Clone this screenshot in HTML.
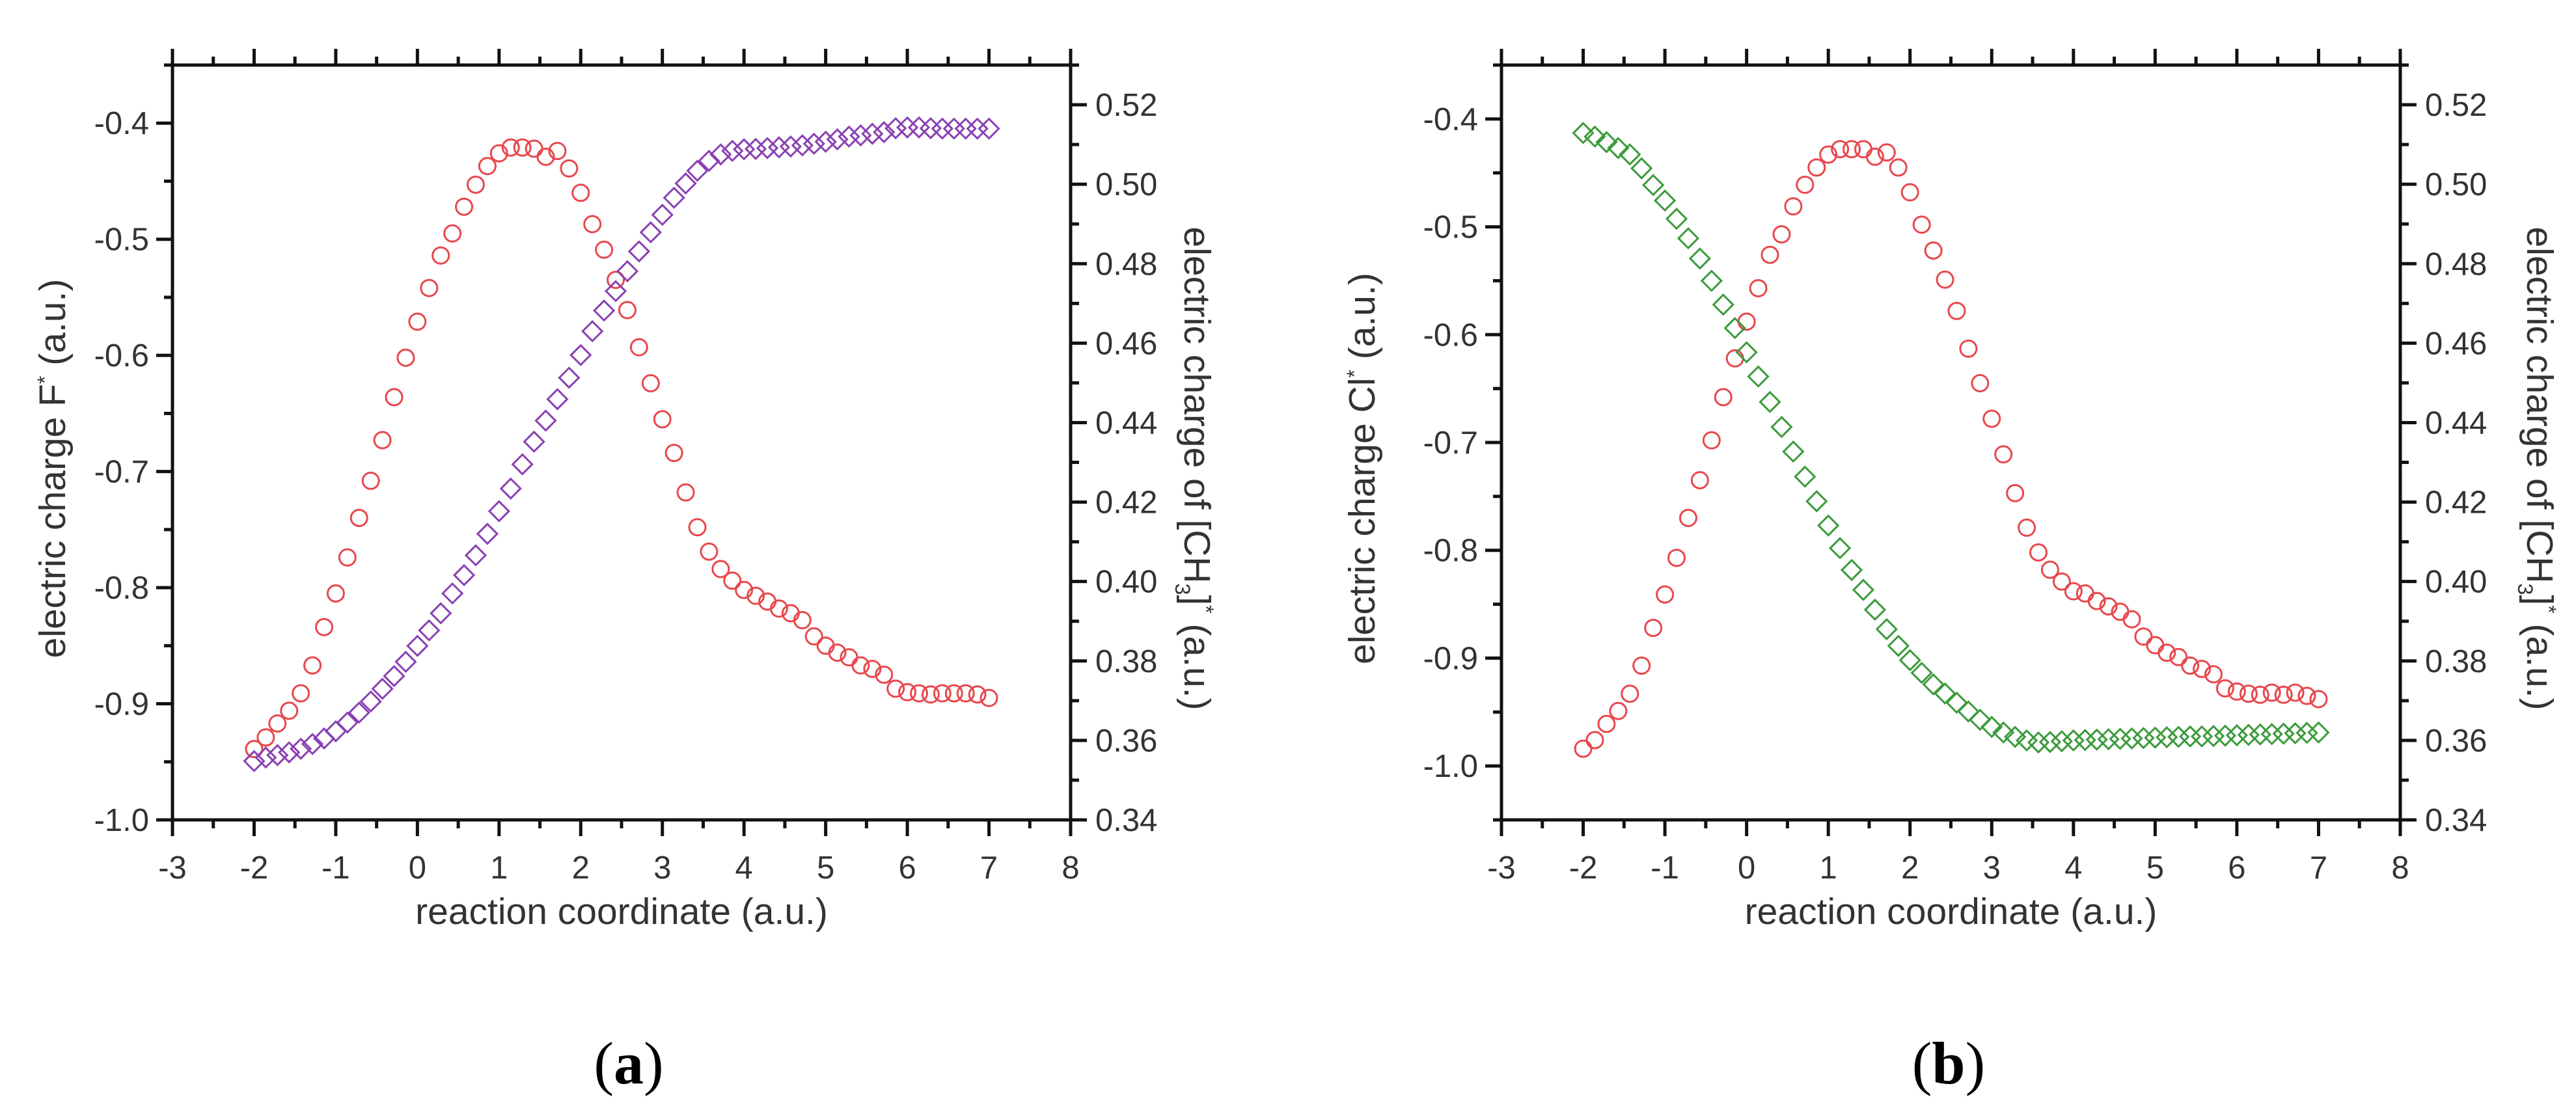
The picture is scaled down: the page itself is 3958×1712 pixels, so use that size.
<!DOCTYPE html>
<html><head><meta charset="utf-8"><style>
html,body{margin:0;padding:0;background:#fff;width:3958px;height:1712px;overflow:hidden}
svg text{font-family:"Liberation Sans",sans-serif;fill:#333}
</style></head><body>
<svg id="fig" width="3958" height="1712" viewBox="0 0 3958 1712" xmlns="http://www.w3.org/2000/svg">
<text x="966" y="1665" text-anchor="middle" style="font-family:'Liberation Serif',serif;font-size:92px;fill:#000">(<tspan font-weight="bold">a</tspan>)</text>
<text x="2994" y="1665" text-anchor="middle" style="font-family:'Liberation Serif',serif;font-size:92px;fill:#000">(<tspan font-weight="bold">b</tspan>)</text>
</svg>
<script>
const xTicks=[-3,-2,-1,0,1,2,3,4,5,6,7,8];
const rightTicks=[0.34,0.36,0.38,0.40,0.42,0.44,0.46,0.48,0.50,0.52];
const leftTicksA=[-1.0,-0.9,-0.8,-0.7,-0.6,-0.5,-0.4];
const leftTicksB=[-1.0,-0.9,-0.8,-0.7,-0.6,-0.5,-0.4];
const redA=[-0.939,-0.929,-0.917,-0.906,-0.891,-0.867,-0.834,-0.805,-0.774,-0.74,-0.708,-0.673,-0.636,-0.602,-0.571,-0.542,-0.514,-0.495,-0.472,-0.453,-0.437,-0.426,-0.421,-0.421,-0.422,-0.429,-0.424,-0.439,-0.46,-0.487,-0.509,-0.535,-0.561,-0.593,-0.624,-0.655,-0.684,-0.718,-0.748,-0.769,-0.784,-0.794,-0.802,-0.807,-0.812,-0.818,-0.822,-0.828,-0.842,-0.85,-0.856,-0.86,-0.867,-0.87,-0.875,-0.887,-0.89,-0.891,-0.892,-0.891,-0.891,-0.891,-0.892,-0.895];
const purpleA=[0.3548,0.3557,0.3563,0.357,0.3579,0.3591,0.3605,0.3623,0.3645,0.367,0.3698,0.373,0.3762,0.3798,0.3838,0.3877,0.392,0.397,0.4016,0.4066,0.412,0.4177,0.4234,0.4295,0.4352,0.4405,0.4459,0.4513,0.457,0.463,0.4682,0.4731,0.4781,0.4831,0.4879,0.4923,0.4966,0.5002,0.5034,0.5059,0.5075,0.5084,0.5088,0.5089,0.5091,0.5093,0.5095,0.5098,0.5102,0.5107,0.5113,0.512,0.5123,0.5127,0.5131,0.5141,0.5143,0.5143,0.5141,0.514,0.514,0.514,0.514,0.514];
const redB=[-0.984,-0.976,-0.961,-0.949,-0.933,-0.907,-0.872,-0.841,-0.807,-0.77,-0.735,-0.698,-0.658,-0.622,-0.588,-0.557,-0.526,-0.507,-0.481,-0.461,-0.445,-0.433,-0.428,-0.428,-0.428,-0.435,-0.431,-0.445,-0.468,-0.498,-0.522,-0.549,-0.578,-0.613,-0.645,-0.678,-0.711,-0.747,-0.779,-0.802,-0.818,-0.829,-0.838,-0.84,-0.847,-0.852,-0.857,-0.864,-0.88,-0.888,-0.895,-0.899,-0.907,-0.91,-0.915,-0.928,-0.931,-0.933,-0.934,-0.932,-0.934,-0.932,-0.935,-0.938];
const greenB=[0.5129,0.512,0.5106,0.5091,0.5075,0.504,0.4998,0.4959,0.4913,0.4864,0.4813,0.4757,0.4697,0.4638,0.4577,0.4516,0.4452,0.4389,0.4327,0.4264,0.4202,0.4141,0.4084,0.4029,0.3979,0.3929,0.388,0.3838,0.3802,0.377,0.3741,0.3718,0.3695,0.3673,0.3652,0.3634,0.362,0.3609,0.36,0.3595,0.3596,0.3598,0.36,0.3601,0.3602,0.3603,0.3604,0.3605,0.3606,0.3607,0.3608,0.3609,0.361,0.361,0.3611,0.3612,0.3613,0.3614,0.3615,0.3616,0.3617,0.3618,0.3619,0.362];
const xStart=-2, xEnd=7;

const NS="http://www.w3.org/2000/svg";
const svg=document.getElementById('fig');
function mk(tag,attrs,parent){const e=document.createElementNS(NS,tag);for(const k in attrs)e.setAttribute(k,attrs[k]);(parent||svg).appendChild(e);return e;}

function panel(p){
  const g=mk('g',{});
  
  
  const L=p.L,R=p.R,T=100,B=1260;
  const sx=v=>L+(v+3)/11*(R-L);
  const sl=v=>B-(v-p.lmin)/(p.lmax-p.lmin)*(B-T);
  const sr=v=>B-(v-0.34)/(0.53-0.34)*(B-T);
  const frame=mk('path',{d:`M${L} ${T}H${R}V${B}H${L}Z`,fill:'none',stroke:'#111','stroke-width':5},g);
  
  
  for(let v=-3;v<=8.001;v+=0.5){
    const major=Math.abs(v-Math.round(v))<1e-6, x=sx(v), len=major?25:13;
    mk('line',{x1:x,x2:x,y1:B,y2:B+len,stroke:'#111','stroke-width':5},g);
    mk('line',{x1:x,x2:x,y1:T,y2:T-len,stroke:'#111','stroke-width':5},g);
  }
  xTicks.forEach(v=>{const t=mk('text',{x:sx(v),y:B+90,'text-anchor':'middle','font-size':49},g);t.textContent=String(v);
    
    });
  for(let v=p.lmin;v<=p.lmax+1e-6;v+=0.05){
    const y=sl(v);const major=Math.abs(v*10-Math.round(v*10))<1e-6;
    mk('line',{x1:L,x2:L-(major?25:13),y1:y,y2:y,stroke:'#111','stroke-width':5},g);
  }
  p.lt.forEach(v=>{const t=mk('text',{x:L-36,y:sl(v)+17,'text-anchor':'end','font-size':49},g);t.textContent=v.toFixed(1);
    
    });
  for(let v=0.34;v<=0.53+1e-6;v+=0.01){
    const y=sr(v);const major=Math.round(v*100)%2===0;
    mk('line',{x1:R,x2:R+(major?25:13),y1:y,y2:y,stroke:'#111','stroke-width':5},g);
  }
  rightTicks.forEach(v=>{const t=mk('text',{x:R+38,y:sr(v)+17,'font-size':49},g);t.textContent=v.toFixed(2);
    
    });
  const xt=mk('text',{x:(L+R)/2,y:1420,'text-anchor':'middle','font-size':57},g);xt.textContent='reaction coordinate (a.u.)';
  
  
  const lt=mk('text',{x:0,y:0,'text-anchor':'middle','font-size':57,transform:`translate(${p.ltx},${p.lty}) rotate(-90)`},g);
  lt.innerHTML=`electric charge ${p.ion}<tspan dy="-20" font-size="32">*</tspan><tspan dy="20"> (a.u.)</tspan>`;
  
  
  const rt=mk('text',{x:0,y:0,'text-anchor':'middle','font-size':57,transform:`translate(${R+p.rdx},${p.rty}) rotate(90)`},g);
  rt.innerHTML='electric charge of [CH<tspan dy="14" font-size="32">3</tspan><tspan dy="-14">]</tspan><tspan dy="-22" font-size="32">*</tspan><tspan dy="22"> (a.u.)</tspan>';
  
  
  const n=p.red.length;
  p.red.forEach((v,i)=>{const x=sx(xStart+i*(xEnd-xStart)/(n-1));
    const c=mk('circle',{cx:x,cy:sl(v),r:12.5,fill:'none',stroke:'#e8474c','stroke-width':3},g);
    
    });
  const m=p.dia.length;
  p.dia.forEach((v,i)=>{const x=sx(xStart+i*(xEnd-xStart)/(m-1)),y=sr(v),h=15;
    const d=mk('path',{d:`M${x} ${y-h}L${x+h} ${y}L${x} ${y+h}L${x-h} ${y}Z`,fill:'none',stroke:p.dcol,'stroke-width':3},g);
    
    });
}
panel({name:'panel-a-chart',L:265,R:1645,lmin:-1.0,lmax:-0.35,lt:leftTicksA,red:redA,dia:purpleA,dcol:'#8a40b4',ion:'F',ltx:100,lty:720,rty:720,rdx:175});
panel({name:'panel-b-chart',L:2307,R:3688,lmin:-1.05,lmax:-0.35,lt:leftTicksB,red:redB,dia:greenB,dcol:'#3b9a3b',ion:'Cl',ltx:2112,lty:720,rty:720,rdx:195});
</script>
</body></html>
